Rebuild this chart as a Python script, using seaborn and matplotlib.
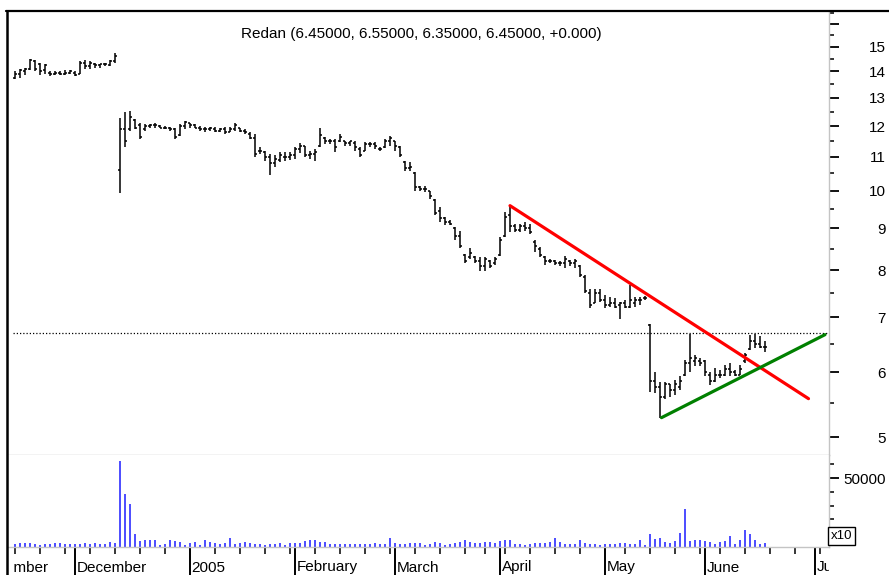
import numpy as np
import pandas as pd
import matplotlib
matplotlib.use("Agg")
import matplotlib.pyplot as plt
import seaborn as sns
from matplotlib.lines import Line2D
from matplotlib.transforms import Bbox, blended_transform_factory
from matplotlib.ticker import FixedLocator, FixedFormatter, NullFormatter

# ---------------- data ----------------
title_text = "Redan (6.45000, 6.55000, 6.35000, 6.45000, +0.000)"

opens = [13.75, 13.9, 14.0, 14.1, 14.4, 14.3, 14.05, 13.95, 13.9, 13.95, 13.9, 13.95, 13.95, 13.9, 14.35, 14.2, 14.3, 14.25, 14.3, 14.25, 14.4,
         10.6, 11.9, 11.9, 12.2, 12.05, 11.9, 12.0, 12.05, 12.0, 11.95, 11.95, 11.9, 11.7, 12.0, 12.1, 12.05, 11.95, 11.9, 11.9, 11.9,
         11.85, 11.9, 11.8, 11.9, 11.95, 11.85, 11.75, 11.6, 11.2, 11.15, 11.0, 10.8, 10.9, 11.0, 11.0, 11.05,
         11.25, 11.35, 11.05, 11.1, 11.35, 11.6, 11.5, 11.5, 11.5, 11.5, 11.45, 11.45, 11.25, 11.2, 11.4, 11.4, 11.25, 11.3, 11.5, 11.5,
         11.3, 10.85, 10.65, 10.5, 10.1, 10.05, 10.0, 9.75, 9.45, 9.25, 9.15, 9.0, 8.8, 8.35, 8.3, 8.3, 8.2, 8.1, 8.2, 8.15,
         8.35, 8.8, 9.35, 9.05, 8.95, 9.05, 9.0, 8.65, 8.5, 8.3, 8.2, 8.2, 8.15, 8.15, 8.2, 8.15, 8.1, 7.85, 7.5, 7.3,
         7.5, 7.35, 7.25, 7.3, 7.25, 7.3, 7.2, 7.3, 7.35, 7.4,
         6.85, 5.85, 5.75, 5.6, 5.8, 5.7, 5.75, 5.95, 6.15, 6.2, 6.2, 6.2, 5.95, 5.85, 5.95, 5.95, 6.05, 6.0, 5.95, 6.2, 6.4, 6.55, 6.5, 6.45]

highs = [14.0, 14.1, 14.15, 14.5, 14.45, 14.35, 14.3, 14.0, 14.0, 14.0, 14.05, 14.05, 14.0, 14.4, 14.45, 14.4, 14.35, 14.3, 14.35, 14.45, 14.75,
         12.28, 12.48, 12.53, 12.24, 12.12, 12.06, 12.06, 12.1, 12.04, 12.0, 11.98, 11.95, 12.06, 12.18, 12.12, 12.06, 12.0, 11.98, 11.98, 11.98,
         11.95, 11.98, 11.98, 12.12, 11.95, 11.9, 11.79, 11.74, 11.31, 11.2, 11.1, 11.05, 11.14, 11.14, 11.15, 11.3,
         11.43, 11.36, 11.2, 11.25, 11.95, 11.63, 11.58, 11.58, 11.74, 11.52, 11.52, 11.52, 11.31, 11.47, 11.47, 11.47, 11.31, 11.58, 11.68, 11.52,
         11.36, 10.89, 10.84, 10.54, 10.15, 10.15, 10.0, 9.77, 9.55, 9.29, 9.2, 9.03, 8.94, 8.37, 8.51, 8.33, 8.29, 8.29, 8.22, 8.29,
         8.77, 9.42, 9.59, 9.12, 9.12, 9.16, 9.12, 8.7, 8.53, 8.33, 8.26, 8.22, 8.2, 8.33, 8.22, 8.26, 8.11, 7.88, 7.59, 7.59,
         7.59, 7.46, 7.42, 7.39, 7.32, 7.35, 7.66, 7.42, 7.42, 7.44,
         6.88, 6.0, 5.84, 5.84, 5.81, 5.87, 5.93, 6.21, 6.69, 6.3, 6.24, 6.21, 6.0, 6.07, 6.04, 6.12, 6.15, 6.04, 6.12, 6.33, 6.66, 6.69, 6.64, 6.55]

lows = [13.7, 13.75, 13.85, 14.05, 14.0, 13.85, 13.9, 13.8, 13.85, 13.85, 13.85, 13.9, 13.8, 13.9, 14.1, 14.1, 14.15, 14.15, 14.2, 14.2, 14.35,
        9.95, 11.31, 11.84, 11.9, 11.58, 11.84, 11.95, 11.95, 11.93, 11.9, 11.84, 11.58, 11.68, 11.9, 11.95, 11.92, 11.84, 11.79, 11.84, 11.79,
        11.79, 11.74, 11.79, 11.84, 11.79, 11.74, 11.58, 10.99, 11.1, 10.89, 10.45, 10.69, 10.84, 10.89, 10.9, 10.95,
        11.11, 10.99, 10.95, 10.89, 11.31, 11.42, 11.42, 11.14, 11.47, 11.36, 11.36, 11.2, 10.99, 11.2, 11.31, 11.25, 11.2, 11.28, 11.36, 11.2,
        10.99, 10.58, 10.58, 10.0, 10.0, 9.96, 9.77, 9.33, 9.16, 9.07, 9.07, 8.7, 8.51, 8.15, 8.26, 8.15, 7.99, 7.99, 8.04, 8.11,
        8.33, 8.77, 8.9, 8.9, 8.9, 8.94, 8.86, 8.41, 8.29, 8.11, 8.15, 8.11, 8.09, 8.04, 8.09, 8.04, 7.84, 7.5, 7.19, 7.29,
        7.32, 7.19, 7.22, 7.19, 6.98, 7.19, 7.19, 7.22, 7.25, 7.35,
        5.68, 5.66, 5.28, 5.57, 5.6, 5.63, 5.7, 5.93, 6.0, 6.1, 6.1, 5.93, 5.79, 5.84, 5.9, 5.93, 5.93, 5.93, 5.95, 6.16, 6.39, 6.42, 6.42, 6.35]

closes = [13.9, 14.05, 14.1, 14.45, 14.1, 14.0, 14.25, 13.9, 13.95, 13.9, 13.95, 14.0, 13.85, 14.35, 14.2, 14.35, 14.25, 14.3, 14.3, 14.4, 14.6,
          11.9, 11.5, 12.3, 11.95, 11.65, 12.0, 12.05, 12.05, 11.95, 11.95, 11.9, 11.65, 12.0, 12.15, 12.05, 11.95, 11.9, 11.9, 11.95, 11.85,
          11.9, 11.8, 11.9, 12.05, 11.85, 11.8, 11.6, 11.1, 11.2, 11.0, 10.8, 10.95, 11.05, 11.0, 11.05, 11.25,
          11.35, 11.05, 11.1, 11.15, 11.7, 11.5, 11.5, 11.3, 11.65, 11.45, 11.5, 11.3, 11.05, 11.4, 11.4, 11.35, 11.25, 11.5, 11.6, 11.35,
          11.05, 10.65, 10.7, 10.1, 10.05, 10.05, 9.85, 9.4, 9.25, 9.15, 9.1, 8.8, 8.55, 8.2, 8.4, 8.2, 8.1, 8.25, 8.1, 8.25,
          8.7, 9.3, 9.05, 8.95, 9.05, 9.0, 8.9, 8.55, 8.35, 8.2, 8.2, 8.15, 8.15, 8.25, 8.15, 8.2, 7.9, 7.55, 7.25, 7.5,
          7.35, 7.25, 7.3, 7.2, 7.3, 7.2, 7.35, 7.35, 7.35, 7.4,
          5.85, 5.75, 5.6, 5.8, 5.7, 5.8, 5.85, 6.15, 6.25, 6.25, 6.15, 6.0, 5.85, 5.95, 5.95, 6.05, 6.0, 5.95, 6.05, 6.3, 6.55, 6.5, 6.45, 6.45]

# volume, in units of x10 (as the axis shows)
volumes = [2400, 3100, 3100, 2900, 2400, 1700, 2200, 2200, 3100, 3100, 2400, 1900, 1900, 2400, 3100, 2200, 3100, 2400, 2400, 3400, 3100,
           62400, 38200, 31000, 9200, 4400, 5300, 5300, 5300, 1800, 2400, 4800, 4100, 3600, 1200, 2900, 3600, 1700, 5300, 3600, 2900,
           2400, 2900, 6500, 2400, 2900, 3600, 2900, 2400, 2200, 1700, 2400, 2400, 3100, 1500, 3100, 3100,
           3100, 4400, 5300, 4800, 3600, 3600, 1900, 2400, 2400, 2400, 2400, 1900, 2400, 1900, 2400, 2900, 1900, 2400, 6800, 2900,
           1900, 2400, 2900, 3100, 2900, 1700, 2400, 3600, 2900, 1500, 2400, 2900, 3600, 4800, 3600, 2900, 2900, 3600, 3600, 2900,
           4400, 5300, 5300, 1900, 2400, 1700, 2400, 2900, 2900, 2900, 3600, 6800, 3600, 2400, 1900, 2400, 5300, 2900, 2400, 1900,
           1700, 1900, 2400, 1900, 3100, 2900, 1900, 2400, 5300, 1700,
           9200, 6000, 6800, 3600, 2900, 4400, 10200, 27800, 4400, 5300, 5300, 4100, 3600, 2400, 3600, 4400, 7700, 1900, 5300, 12600,
           9200, 4800, 2400, 2900]

# trading calendar (weekdays without the days missing in the chart)
first_day = "2004-11-15"
last_axis_day = "2005-07-29"
missing_days = ["2005-03-25", "2005-03-28", "2005-05-02", "2005-05-30"]

# trend lines (bar index, price) and horizontal marker level
red_x, red_y = [99, 158.7], [9.59, 5.57]
green_x, green_y = [129.3, 162.0], [5.28, 6.67]
hline_level = 6.70

price_ticks = [5, 6, 7, 8, 9, 10, 11, 12, 13, 14, 15, 16]
price_labels = ["5", "6", "7", "8", "9", "10", "11", "12", "13", "14", "15", ""]
price_minor = [5.5, 6.5, 7.5, 8.5, 9.5, 10.5, 11.5, 12.5, 13.5, 14.5, 15.5, 16.5]
vol_ticks = [50000]
vol_labels = ["50000"]
vol_minor = [10000, 20000, 30000, 40000, 60000]

n = len(closes)
assert len(opens) == n == len(highs) == len(lows) == len(volumes)

# ---------------- calendar / index ----------------
all_days = pd.bdate_range(first_day, last_axis_day)
days = all_days[~all_days.isin(pd.to_datetime(missing_days))]
idx = np.arange(n)

month_pos, month_names = [], []
week_pos = [0]
for i in range(1, len(days)):
    if days[i].month != days[i - 1].month:
        month_pos.append(i)
        month_names.append("2005" if days[i].month == 1 else days[i].strftime("%B"))
    if days[i].isocalendar()[1] != days[i - 1].isocalendar()[1]:
        week_pos.append(i)
# the partially visible month before the data start
month_pos = [-7.6] + month_pos
month_names = ["November"] + month_names

df = pd.DataFrame({"i": idx, "open": opens, "high": highs, "low": lows,
                   "close": closes, "volume": volumes})

# ---------------- figure ----------------
sns.set_theme(style="white")
plt.rcParams["font.family"] = ["Liberation Sans", "DejaVu Sans"]
plt.rcParams["font.size"] = 11

W, H = 889, 575
fig = plt.figure(figsize=(W / 100, H / 100), dpi=100)
fig.patch.set_facecolor("white")
L, R = 7.5 / W, 828.5 / W
ax_p = fig.add_axes([L, 1 - 455 / H, R - L, (455 - 11) / H])
ax_v = fig.add_axes([L, 1 - 547 / H, R - L, (547 - 455) / H])

xlim = (-1.5, 162.7)
gray = "#c4c4c4"

# ---- price panel ----
ax_p.set_yscale("log")
ax_p.vlines(df["i"], df["low"], df["high"], color="black", lw=1.1)
ax_p.hlines(df["open"], df["i"] - 0.45, df["i"], color="black", lw=1.1)
ax_p.hlines(df["close"], df["i"], df["i"] + 0.45, color="black", lw=1.1)
ax_p.axhline(hline_level, xmin=(13 - 7.5) / 821, color="black", lw=0.9, ls=(0, (1, 1.6)))
sns.lineplot(x=red_x, y=red_y, ax=ax_p, color="#ff0000", lw=2.3, estimator=None, sort=False)
sns.lineplot(x=green_x, y=green_y, ax=ax_p, color="#008000", lw=2.3, estimator=None, sort=False)

ax_p.set_xlim(*xlim)
ax_p.set_ylim(4.753, 16.59)
ax_p.set_xticks([])
ax_p.yaxis.tick_right()
ax_p.yaxis.set_major_locator(FixedLocator(price_ticks))
ax_p.yaxis.set_major_formatter(FixedFormatter(price_labels))
ax_p.yaxis.set_minor_locator(FixedLocator(price_minor))
ax_p.yaxis.set_minor_formatter(NullFormatter())
ax_p.tick_params(axis="y", which="major", direction="out", length=7, width=1.3,
                 colors="black", labelsize=11, pad=34.4, right=True, left=False)
ax_p.tick_params(axis="y", which="minor", direction="out", length=3.5, width=1.1,
                 colors="black", right=True, left=False)
plt.setp(ax_p.yaxis.get_majorticklabels(), ha="right")
for s in ["top", "left"]:
    ax_p.spines[s].set_visible(False)
for s in ["bottom", "right"]:
    ax_p.spines[s].set_color(gray)
    ax_p.spines[s].set_linewidth(1.0)
ax_p.set_xlabel("")
ax_p.set_ylabel("")

# ---- volume panel ----
ax_v.vlines(df["i"], 0, df["volume"], color="#2d2dff", lw=1.2)
ax_v.set_xlim(*xlim)
ax_v.set_ylim(0, 66667)
ax_v.yaxis.tick_right()
ax_v.yaxis.set_major_locator(FixedLocator(vol_ticks))
ax_v.yaxis.set_major_formatter(FixedFormatter(vol_labels))
ax_v.yaxis.set_minor_locator(FixedLocator(vol_minor))
ax_v.yaxis.set_minor_formatter(NullFormatter())
ax_v.tick_params(axis="y", which="major", direction="out", length=7, width=1.3,
                 colors="black", labelsize=11, pad=34.4, right=True, left=False)
ax_v.tick_params(axis="y", which="minor", direction="out", length=3.5, width=1.1,
                 colors="black", right=True, left=False)
plt.setp(ax_v.yaxis.get_majorticklabels(), ha="right")

ax_v.xaxis.set_major_locator(FixedLocator([p for p in month_pos if p >= 0]))
ax_v.xaxis.set_minor_locator(FixedLocator(week_pos))
ax_v.xaxis.set_major_formatter(NullFormatter())
ax_v.tick_params(axis="x", which="major", direction="out", length=20, width=1.4,
                 colors="black", bottom=True, labelbottom=False)
ax_v.tick_params(axis="x", which="minor", direction="out", length=5, width=1.1,
                 colors="black", bottom=True)
for s in ["top", "left"]:
    ax_v.spines[s].set_visible(False)
for s in ["bottom", "right"]:
    ax_v.spines[s].set_color(gray)
    ax_v.spines[s].set_linewidth(1.0)

# month labels, clipped to the plotting width
clip = Bbox.from_extents(13, 0, 828.5, H)
trans = blended_transform_factory(ax_v.transData, ax_v.transAxes)
for p, name in zip(month_pos, month_names):
    t = ax_v.text(p + 0.35, (547 - 571.5) / 92, name, transform=trans,
                  ha="left", va="baseline", fontsize=11, color="black")
    t.set_clip_on(True)
    t.set_clip_box(clip)

# title and decorations
fig.text(421 / W, 1 - 34 / H, title_text, ha="center", va="center", fontsize=11, color="black")
fig.text(841.5 / W, 1 - 536 / H, "x10", ha="center", va="center", fontsize=9.5, color="black",
         bbox=dict(boxstyle="square,pad=0.2", fc="white", ec="black", lw=1))
fig.add_artist(Line2D([6 / W, 1.0], [1 - 11 / H, 1 - 11 / H], color="black", lw=1.6))
fig.add_artist(Line2D([7.3 / W, 7.3 / W], [0, 1 - 11 / H], color="black", lw=1.8))

fig.savefig("out.png", dpi=100)
